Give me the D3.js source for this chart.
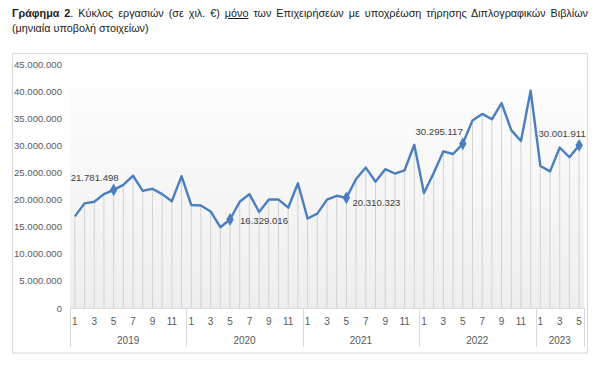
<!DOCTYPE html>
<html>
<head>
<meta charset="utf-8">
<script src="https://cdn.jsdelivr.net/npm/d3@7"></script>
<style>
  html, body { margin: 0; padding: 0; background: #fff; }
  body { width: 600px; height: 370px; position: relative; overflow: hidden; font-family: "Liberation Sans", Arial, sans-serif; }
  .title { position: absolute; left: 12px; top: 6px; width: 576px; font-size: 10.8px; color: #1a1a1a; line-height: 15px; }
  .title .l1 { white-space: nowrap; text-align: justify; text-align-last: justify; }
  .title b { font-weight: bold; }
  .title u { text-decoration: underline; }
  svg { position: absolute; left: 0; top: 0; }
</style>
</head>
<body>
<div class="title">
  <div class="l1"><b>Γράφημα 2</b>. Κύκλος εργασιών (σε χιλ. €) <u>μόνο</u> των Επιχειρήσεων με υποχρέωση τήρησης Διπλογραφικών Βιβλίων</div>
  <div>(μηνιαία υποβολή στοιχείων)</div>
</div>
<svg id="chart" width="600" height="370"></svg>
<script>
// Monthly turnover, millions of euro, Jan 2019 .. May 2023
const years = [2019, 2020, 2021, 2022, 2023];
const monthsPerYear = [12, 12, 12, 12, 5];
const values = [
  16.9, 19.3, 19.6, 21.0, 21.781498, 22.7, 24.4, 21.6, 22.0, 21.0, 19.7, 24.3,   // 2019
  19.0, 18.9, 17.8, 14.9, 16.329016, 19.6, 21.0, 17.7, 20.0, 20.0, 18.5, 23.0,   // 2020
  16.5, 17.4, 20.0, 20.7, 20.310323, 23.8, 25.9, 23.3, 25.6, 24.8, 25.4, 30.1,   // 2021
  21.2, 24.9, 28.9, 28.4, 30.295117, 34.6, 35.8, 34.8, 37.8, 32.8, 30.8, 40.1,   // 2022
  26.2, 25.2, 29.6, 27.8, 30.001911                                               // 2023
];
const markedIdx = [4, 16, 28, 40, 52];            // May of each year
const yTicks = [0, 5, 10, 15, 20, 25, 30, 35, 40, 45];

const gr = d3.formatLocale({ decimal: ',', thousands: '.', grouping: [3], currency: ['', '€'] });
const fmt = gr.format(',d');

const svg = d3.select('#chart');
const plotL = 70, plotR = 584, plotT = 64, plotB = 308;

// month index -> {year, month}
const periods = [];
years.forEach((yr, k) => d3.range(monthsPerYear[k]).forEach((m) => periods.push({ yr, m: m + 1 })));

const x = d3.scaleBand().domain(d3.range(values.length)).range([plotL, plotR]);
const cx = (i) => x(i) + x.bandwidth() / 2;
const y = d3.scaleLinear().domain([0, 45]).range([plotB, plotT]);

// outer chart frame
svg.append('rect').attr('x', 12.5).attr('y', 53.5).attr('width', 575).attr('height', 299.5)
  .attr('fill', 'none').attr('stroke', '#d9d9d9');

// plot background gradient
const defs = svg.append('defs');
const lg = defs.append('linearGradient').attr('id', 'bg').attr('x1', 0).attr('y1', 0).attr('x2', 0).attr('y2', 1);
lg.append('stop').attr('offset', 0).attr('stop-color', '#ffffff');
lg.append('stop').attr('offset', 1).attr('stop-color', '#eeeeee');
svg.append('rect').attr('x', plotL).attr('y', plotT - 6).attr('width', plotR - plotL).attr('height', plotB - plotT + 6)
  .attr('fill', 'url(#bg)');

// y axis labels
const yAxis = svg.append('g').attr('transform', `translate(${plotL},0)`)
  .call(d3.axisLeft(y).tickValues(yTicks).tickSize(0).tickPadding(8).tickFormat((d) => fmt(d * 1e6)));
yAxis.select('.domain').remove();
yAxis.selectAll('text').attr('fill', '#595959').style('font-size', '9.6px').style('font-family', '"Liberation Sans", Arial, sans-serif');

// drop lines
svg.append('g').selectAll('line').data(values).join('line')
  .attr('x1', (d, i) => cx(i)).attr('x2', (d, i) => cx(i))
  .attr('y1', (d) => y(d)).attr('y2', plotB)
  .attr('stroke', '#d2d2d2').attr('stroke-width', 1);

// category axis frame
const axisG = svg.append('g');
axisG.append('line').attr('x1', plotL).attr('x2', plotR).attr('y1', plotB + 0.5).attr('y2', plotB + 0.5).attr('stroke', '#d9d9d9');
let acc = 0;
const bounds = [0];
monthsPerYear.forEach((n) => { acc += n; bounds.push(acc); });
const bx = (b) => (b < values.length ? x(b) : plotR);
axisG.selectAll('line.sep').data(bounds).join('line').attr('class', 'sep')
  .attr('x1', (b) => Math.round(bx(b)) + 0.5)
  .attr('x2', (b) => Math.round(bx(b)) + 0.5)
  .attr('y1', plotB).attr('y2', 347).attr('stroke', '#d9d9d9');

axisG.selectAll('text.month').data(periods.map((p, i) => ({ ...p, i })).filter((p) => p.m % 2 === 1))
  .join('text').attr('class', 'month')
  .attr('x', (p) => cx(p.i)).attr('y', 321).attr('dy', '0.35em').attr('text-anchor', 'middle')
  .attr('fill', '#595959').style('font-size', '10px').text((p) => p.m);

axisG.selectAll('text.year').data(years).join('text').attr('class', 'year')
  .attr('x', (yr, k) => (bx(bounds[k]) + bx(bounds[k + 1])) / 2)
  .attr('y', 340).attr('dy', '0.35em').attr('text-anchor', 'middle')
  .attr('fill', '#595959').style('font-size', '10px').text((yr) => yr);

// line
svg.append('path').datum(values)
  .attr('d', d3.line().x((d, i) => cx(i)).y((d) => y(d)))
  .attr('fill', 'none').attr('stroke', '#4a7ebf').attr('stroke-width', 2.4).attr('stroke-linejoin', 'round');

// markers
svg.append('g').selectAll('path').data(markedIdx).join('path')
  .attr('transform', (i) => `translate(${cx(i)},${y(values[i])})`)
  .attr('d', d3.symbol().type(d3.symbolDiamond).size(48))
  .attr('fill', '#4a7ebf');

// data labels (offsets relative to marker)
const labelPos = [
  { dx: -19, dy: -12, anchor: 'middle' },
  { dx: 10, dy: 1, anchor: 'start' },
  { dx: 6, dy: 4.5, anchor: 'start' },
  { dx: 0, dy: -12, anchor: 'end' },
  { dx: -17, dy: -12, anchor: 'middle' }
];
svg.append('g').selectAll('text').data(markedIdx).join('text')
  .attr('x', (i, k) => cx(i) + labelPos[k].dx)
  .attr('y', (i, k) => y(values[i]) + labelPos[k].dy)
  .attr('dy', '0.35em').attr('text-anchor', (i, k) => labelPos[k].anchor)
  .attr('fill', '#404040').style('font-size', '9.6px')
  .text((i) => fmt(Math.round(values[i] * 1e6)));
</script>
</body>
</html>
